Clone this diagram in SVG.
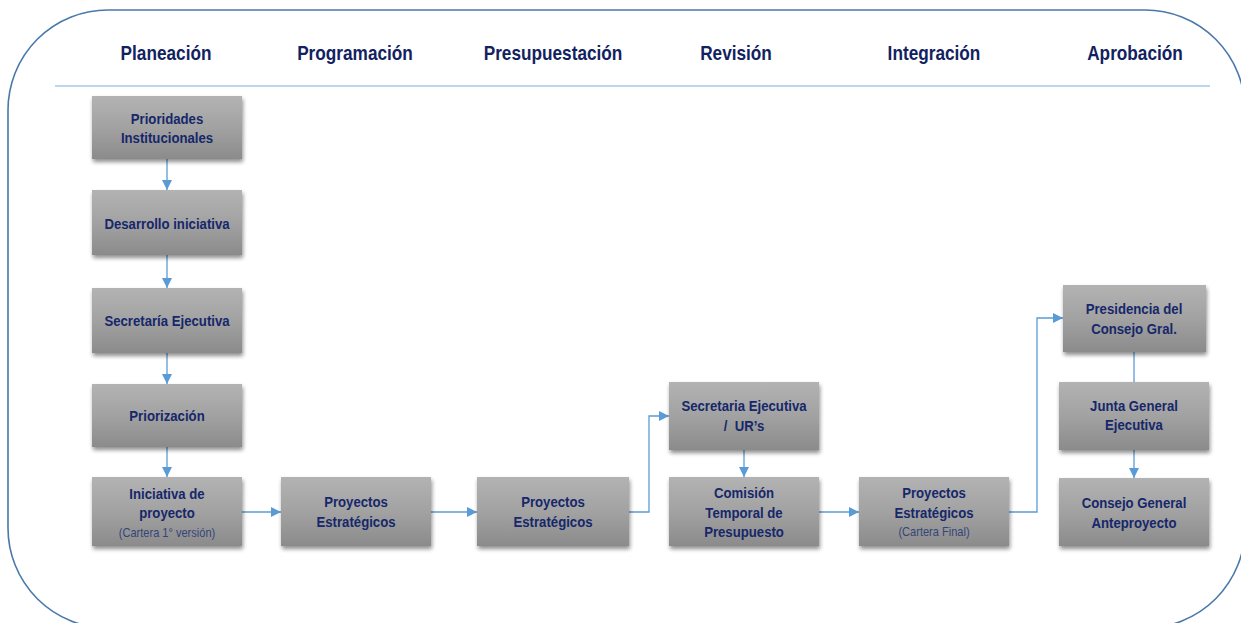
<svg xmlns="http://www.w3.org/2000/svg" width="1241" height="623" viewBox="0 0 1241 623">
<defs>
<linearGradient id="g" x1="0" y1="0" x2="0" y2="1">
<stop offset="0" stop-color="#b3b3b3"/>
<stop offset="0.5" stop-color="#a2a2a2"/>
<stop offset="1" stop-color="#8b8b8b"/>
</linearGradient>
<filter id="sh" x="-10%" y="-10%" width="125%" height="135%">
<feGaussianBlur in="SourceAlpha" stdDeviation="2"/>
<feOffset dx="1" dy="3" result="b"/>
<feComponentTransfer><feFuncA type="linear" slope="0.45"/></feComponentTransfer>
<feMerge><feMergeNode/><feMergeNode in="SourceGraphic"/></feMerge>
</filter>
<marker id="ah" viewBox="0 0 10 10" refX="10" refY="5" markerWidth="10" markerHeight="10" markerUnits="userSpaceOnUse" orient="auto">
<path d="M0,0 L10,5 L0,10 Z" fill="#5b9bd5"/>
</marker>
</defs>
<style>
.box{fill:url(#g);filter:url(#sh)}
.t{font-family:"Liberation Sans",Arial,sans-serif;font-weight:bold;font-size:15.5px;fill:#16276a;text-anchor:middle}
.s{font-family:"Liberation Sans",Arial,sans-serif;font-size:13px;fill:#34447a;text-anchor:middle}
.h{font-family:"Liberation Sans",Arial,sans-serif;font-weight:bold;font-size:20.5px;fill:#122260;text-anchor:middle}
.c{fill:none;stroke:#5b9bd5;stroke-width:1.3}
.ca{fill:none;stroke:#5b9bd5;stroke-width:1.3;marker-end:url(#ah)}
</style>
<rect x="8" y="10" width="1237" height="618" rx="100" ry="100" fill="#ffffff" stroke="#4a78aa" stroke-width="1.6"/>
<line x1="55" y1="86" x2="1210" y2="86" stroke="#7aaee0" stroke-width="1.2"/>
<g id="headers">
<text class="h" transform="translate(166,60) scale(0.84,1)">Planeación</text>
<text class="h" transform="translate(355,60) scale(0.84,1)">Programación</text>
<text class="h" transform="translate(553,60) scale(0.84,1)">Presupuestación</text>
<text class="h" transform="translate(736,60) scale(0.84,1)">Revisión</text>
<text class="h" transform="translate(934,60) scale(0.84,1)">Integración</text>
<text class="h" transform="translate(1135,60) scale(0.84,1)">Aprobación</text>
</g>
<g id="connectors">
<line class="ca" x1="167" y1="159" x2="167" y2="190"/>
<line class="ca" x1="167" y1="255" x2="167" y2="288"/>
<line class="ca" x1="167" y1="353" x2="167" y2="384"/>
<line class="ca" x1="167" y1="447" x2="167" y2="477"/>
<line class="ca" x1="242" y1="512" x2="281" y2="512"/>
<line class="ca" x1="431" y1="512" x2="477" y2="512"/>
<polyline class="ca" points="629,512 649,512 649,416 669,416"/>
<line class="ca" x1="744" y1="450" x2="744" y2="477"/>
<line class="ca" x1="819" y1="512" x2="859" y2="512"/>
<polyline class="ca" points="1009,512 1037,512 1037,318 1063,318"/>
<line class="c" x1="1134" y1="352" x2="1134" y2="382"/>
<line class="ca" x1="1134" y1="450" x2="1134" y2="478"/>
</g>
<g id="n1"><rect class="box" x="92" y="96" width="150" height="63"/>
<text class="t" transform="translate(167,124) scale(0.85,1)">Prioridades</text>
<text class="t" transform="translate(167,143) scale(0.85,1)">Institucionales</text></g>
<g id="n2"><rect class="box" x="92" y="190" width="150" height="65"/>
<text class="t" transform="translate(167,229) scale(0.85,1)">Desarrollo iniciativa</text></g>
<g id="n3"><rect class="box" x="92" y="288" width="150" height="65"/>
<text class="t" transform="translate(167,326) scale(0.85,1)">Secretaría Ejecutiva</text></g>
<g id="n4"><rect class="box" x="92" y="384" width="150" height="63"/>
<text class="t" transform="translate(167,421) scale(0.85,1)">Priorización</text></g>
<g id="n5"><rect class="box" x="92" y="477" width="150" height="69"/>
<text class="t" transform="translate(167,499) scale(0.85,1)">Iniciativa de</text>
<text class="t" transform="translate(167,518) scale(0.85,1)">proyecto</text>
<text class="s" transform="translate(167,537) scale(0.85,1)">(Cartera 1° versión)</text></g>
<g id="n6"><rect class="box" x="281" y="477" width="150" height="69"/>
<text class="t" transform="translate(356,507) scale(0.85,1)">Proyectos</text>
<text class="t" transform="translate(356,527) scale(0.85,1)">Estratégicos</text></g>
<g id="n7"><rect class="box" x="477" y="477" width="152" height="69"/>
<text class="t" transform="translate(553,507) scale(0.85,1)">Proyectos</text>
<text class="t" transform="translate(553,527) scale(0.85,1)">Estratégicos</text></g>
<g id="n8"><rect class="box" x="669" y="382" width="150" height="68"/>
<text class="t" transform="translate(744,411) scale(0.85,1)">Secretaria Ejecutiva</text>
<text class="t" transform="translate(744,431) scale(0.85,1)">/&#160; UR’s</text></g>
<g id="n9"><rect class="box" x="669" y="477" width="150" height="69"/>
<text class="t" transform="translate(744,498) scale(0.85,1)">Comisión</text>
<text class="t" transform="translate(744,518) scale(0.85,1)">Temporal de</text>
<text class="t" transform="translate(744,537) scale(0.85,1)">Presupuesto</text></g>
<g id="n10"><rect class="box" x="859" y="477" width="150" height="69"/>
<text class="t" transform="translate(934,498) scale(0.85,1)">Proyectos</text>
<text class="t" transform="translate(934,518) scale(0.85,1)">Estratégicos</text>
<text class="s" transform="translate(934,536) scale(0.85,1)">(Cartera Final)</text></g>
<g id="n11"><rect class="box" x="1063" y="285" width="143" height="67"/>
<text class="t" transform="translate(1134,314) scale(0.85,1)">Presidencia del</text>
<text class="t" transform="translate(1134,334) scale(0.85,1)">Consejo Gral.</text></g>
<g id="n12"><rect class="box" x="1059" y="382" width="150" height="68"/>
<text class="t" transform="translate(1134,411) scale(0.85,1)">Junta General</text>
<text class="t" transform="translate(1134,430) scale(0.85,1)">Ejecutiva</text></g>
<g id="n13"><rect class="box" x="1059" y="478" width="150" height="68"/>
<text class="t" transform="translate(1134,508) scale(0.85,1)">Consejo General</text>
<text class="t" transform="translate(1134,528) scale(0.85,1)">Anteproyecto</text></g>
</svg>
